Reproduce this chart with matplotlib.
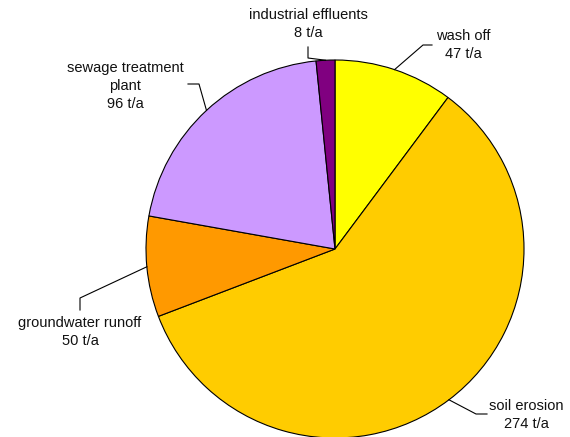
import numpy as np
import matplotlib.pyplot as plt

# data, clockwise from 12 o'clock
sources = ["wash off", "soil erosion", "groundwater runoff",
           "sewage treatment\nplant", "industrial effluents"]
loads = [47, 274, 50, 96, 8]              # values printed in the labels (t/a)
slice_share = [10.2, 59.0, 8.6, 20.6, 1.6]  # slice sizes as drawn (% of circle)
colors = ["#FFFF00", "#FFCC00", "#FF9900", "#CC99FF", "#800080"]

W, H = 570, 437
fig = plt.figure(figsize=(W / 100, H / 100), dpi=100)
ax = fig.add_axes([0, 0, 1, 1])

cx, cy, r = 335, H - 249, 189

wedges, _ = ax.pie(slice_share, colors=colors, startangle=90, counterclock=False,
                   center=(cx, cy), radius=r, frame=True,
                   wedgeprops=dict(edgecolor="black", linewidth=0.8))
ax.set_xlim(0, W)
ax.set_ylim(0, H)
ax.set_aspect("equal")
ax.axis("off")

# label layout (image pixel coords, y downwards): elbow points + text centre
layout = [
    dict(path=[(423, 45), (432, 45)], text=(463, 45)),
    dict(path=[(476, 414), (487, 414)], text=(526, 415)),
    dict(path=[(80, 298), (80, 310)], text=(80, 332)),
    dict(path=[(199, 84), (188, 84)], text=(125, 86)),
    dict(path=[(308, 58), (308, 47)], text=(308, 24)),
]

for w, name, val, lay in zip(wedges, sources, loads, layout):
    mid = np.deg2rad((w.theta1 + w.theta2) / 2)
    edge = (cx + r * np.cos(mid), cy + r * np.sin(mid))
    xs = [edge[0]] + [p[0] for p in lay["path"]]
    ys = [edge[1]] + [H - p[1] for p in lay["path"]]
    ax.plot(xs, ys, color="black", linewidth=0.8)
    tx, ty = lay["text"]
    ax.text(tx, H - ty, f"{name}\n{val} t/a", ha="center", va="center",
            fontsize=10.5, family="Liberation Sans", color="#111111",
            linespacing=1.35)

fig.savefig("out.png", dpi=100)
